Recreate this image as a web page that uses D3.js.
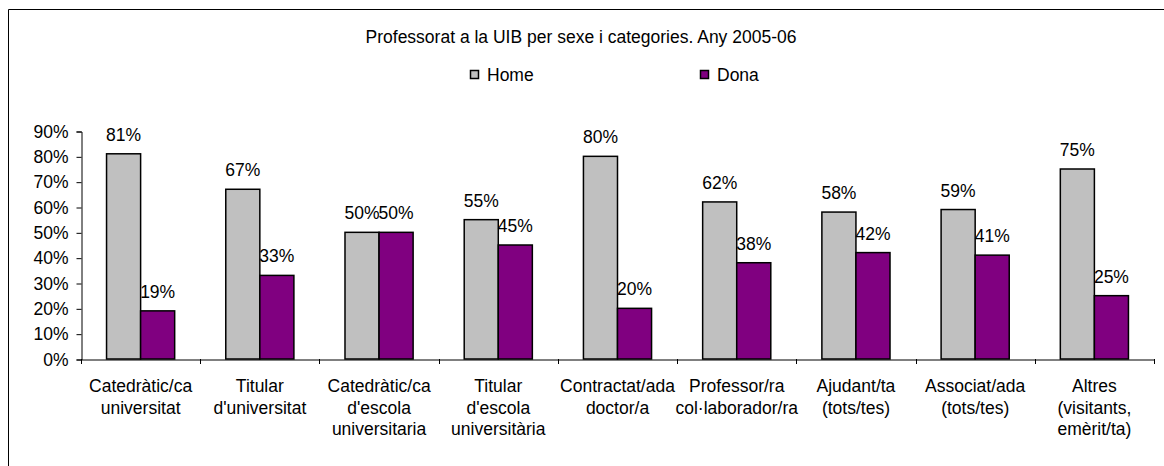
<!DOCTYPE html>
<html>
<head>
<meta charset="utf-8">
<script src="https://d3js.org/d3.v7.min.js"></script>
<style>
body { margin: 0; background: #fff; }
text { font-family: "Liberation Sans", Arial, sans-serif; font-size: 17.5px; fill: #000; }
</style>
</head>
<body>
<script>
// chart data
var categories = [
    ["Catedràtic/ca", "universitat"],
    ["Titular", "d'universitat"],
    ["Catedràtic/ca", "d'escola", "universitaria"],
    ["Titular", "d'escola", "universitària"],
    ["Contractat/ada", "doctor/a"],
    ["Professor/ra", "col·laborador/ra"],
    ["Ajudant/ta", "(tots/tes)"],
    ["Associat/ada", "(tots/tes)"],
    ["Altres", "(visitants,", "emèrit/ta)"]
];
var seriesNames = ["Home", "Dona"];
var homeValues = [81, 67, 50, 55, 80, 62, 58, 59, 75];
var donaValues = [19, 33, 50, 45, 20, 38, 42, 41, 25];
var yTicks = [0, 10, 20, 30, 40, 50, 60, 70, 80, 90];
var title = "Professorat a la UIB per sexe i categories. Any 2005-06";

var colors = { Home: "#C0C0C0", Dona: "#800080" };

// layout
var width = 1164, height = 466;
var plotLeft = 81, plotRight = 1154, plotTop = 131, plotBottom = 359;

var svg = d3.select("body").append("svg")
    .attr("width", width)
    .attr("height", height);

// chart frame (clipped at right and bottom like the source)
svg.append("path")
    .attr("d", "M8.5," + height + "V9.5H" + width)
    .attr("fill", "none")
    .attr("stroke", "#000")
    .attr("stroke-width", 1);

// title
svg.append("text")
    .attr("x", 581)
    .attr("y", 43)
    .attr("text-anchor", "middle")
    .text(title);

// legend
var legendX = [470, 700];
seriesNames.forEach(function(s, i){
    svg.append("rect")
        .attr("x", legendX[i] + 0.5)
        .attr("y", 70.5)
        .attr("width", 8)
        .attr("height", 8)
        .attr("fill", colors[s])
        .attr("stroke", "#000")
        .attr("stroke-width", 1.5);
    svg.append("text")
        .attr("x", legendX[i] + 17)
        .attr("y", 81)
        .text(s);
});

// scales
var x0 = d3.scaleBand()
    .domain(d3.range(categories.length))
    .range([plotLeft, plotRight]);

var x1 = d3.scaleBand()
    .domain(seriesNames)
    .range([0, x0.bandwidth()])
    .paddingOuter(0.75);

var y = d3.scaleLinear()
    .domain([0, 90])
    .range([plotBottom, plotTop]);

// y axis
var yAxis = d3.axisLeft(y)
    .tickValues(yTicks)
    .tickSize(5)
    .tickPadding(8)
    .tickFormat(function(d){ return d + "%"; });

var gy = svg.append("g")
    .attr("transform", "translate(" + (plotLeft + 0.5) + ",0.5)")
    .call(yAxis);
gy.selectAll("text")
    .attr("font-size", null)
    .attr("font-family", null)
    .style("font-size", "17.5px")
    .style("font-family", "'Liberation Sans', Arial, sans-serif");
gy.select(".domain").attr("stroke", "#000");

// bars
var rows = categories.map(function(c, i){
    return { i: i, values: [
        { key: "Home", value: homeValues[i] },
        { key: "Dona", value: donaValues[i] }
    ]};
});

var groups = svg.selectAll(".group")
    .data(rows)
    .enter()
    .append("g")
    .attr("class", "group")
    .attr("transform", function(d){ return "translate(" + x0(d.i) + ",0)"; });

groups.selectAll("rect")
    .data(function(d){ return d.values; })
    .enter()
    .append("rect")
    .attr("x", function(d){ return x1(d.key); })
    .attr("y", function(d){ return y(d.value); })
    .attr("width", x1.bandwidth())
    .attr("height", function(d){ return plotBottom - y(d.value); })
    .attr("fill", function(d){ return colors[d.key]; })
    .attr("stroke", "#000")
    .attr("stroke-width", 1.5);

// value labels
groups.selectAll(".lbl")
    .data(function(d){ return d.values; })
    .enter()
    .append("text")
    .attr("class", "lbl")
    .attr("x", function(d){ return x1(d.key) + x1.bandwidth() / 2; })
    .attr("y", function(d){ return y(d.value) - 13; })
    .attr("text-anchor", "middle")
    .text(function(d){ return d.value + "%"; });

// x axis line
var xAxis = d3.axisBottom(x0)
    .tickSize(0)
    .tickFormat("");
svg.append("g")
    .attr("transform", "translate(0," + (plotBottom + 0.5) + ")")
    .call(xAxis)
    .select(".domain").attr("stroke", "#000");

// tick marks between categories
var bounds = d3.range(categories.length + 1).map(function(i){
    return plotLeft + i * x0.step();
});
svg.selectAll(".xtick")
    .data(bounds)
    .enter()
    .append("line")
    .attr("x1", function(d){ return Math.round(d) + 0.5; })
    .attr("x2", function(d){ return Math.round(d) + 0.5; })
    .attr("y1", plotBottom)
    .attr("y2", plotBottom + 5)
    .attr("stroke", "#000");

// category labels
var catLabels = svg.selectAll(".cat")
    .data(categories)
    .enter()
    .append("text")
    .attr("class", "cat")
    .attr("text-anchor", "middle")
    .attr("transform", function(d, i){
        return "translate(" + (x0(i) + x0.bandwidth() / 2) + ",392)";
    });

catLabels.selectAll("tspan")
    .data(function(d){ return d; })
    .enter()
    .append("tspan")
    .attr("x", 0)
    .attr("y", function(d, j){ return j * 21.5; })
    .text(function(d){ return d; });
</script>
</body>
</html>
